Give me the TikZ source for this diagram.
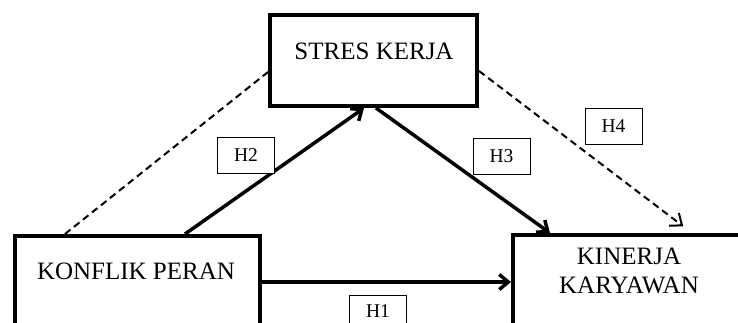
\documentclass[tikz,border=0pt]{standalone}
\usepackage{fontspec}
\setmainfont{Liberation Serif}
\usetikzlibrary{arrows.meta}
\begin{document}
\begin{tikzpicture}[x=1pt,y=-1pt,
  varbox/.style={draw=black, line width=4pt, minimum width=#1, inner sep=0pt},
  vartext/.style={font=\fontsize{25}{28}\selectfont, align=center, inner sep=0pt},
  hyp/.style={draw=black, line width=0.8pt, fill=white, minimum width=57pt, minimum height=36pt,
    inner sep=0pt, font=\fontsize{19.5}{20}\selectfont},
  solidarrow/.style={line width=3.5pt, -{Straight Barb[length=9pt,width=15pt]}},
  dashline/.style={line width=2pt, dash pattern=on 7pt off 4.5pt},
  dasharrow/.style={dashline, -{Straight Barb[length=10pt,width=16pt]}}
]
\useasboundingbox (0,0) rectangle (738,322);
\clip (0,0) rectangle (738,322);
\fill[white] (0,0) rectangle (738,322);

% boxes
\node[varbox=207pt, minimum height=91pt] (stres) at (373.5,60.5) {};
\node[varbox=245pt, minimum height=170pt] (konflik) at (137.5,321) {};
\node[varbox=290pt, minimum height=170pt] (kinerja) at (658,320) {};

% box texts
\node[vartext] (stresT) at (374,51) {STRES KERJA};
\node[vartext] (konflikT) at (136,271) {KONFLIK PERAN};
\node[vartext, font=\fontsize{25}{28.5}\selectfont] (kinerjaT) at (629,271) {KINERJA\\KARYAWAN};

% connectors
\draw[dashline] (konflik.north -| 65,0) -- (stres.west |- 0,72);
\draw[dasharrow, shorten >=11pt] (stres.east |- 0,71) -- (kinerja.north -| 692,0);
\draw[solidarrow] (konflik.north -| 185,0) -- (stres.south -| 364,0);
\draw[solidarrow] (stres.south -| 376,0) -- (kinerja.north -| 550,0);
\draw[solidarrow] (konflik.east |- 0,282) -- (kinerja.west |- 0,282);

% hypothesis labels
\node[hyp] (h2) at (246,155.5) {H2};
\node[hyp] (h3) at (501.5,156.5) {H3};
\node[hyp] (h4) at (613.5,126.5) {H4};
\node[hyp] (h1) at (378,313) {};
\node[font=\fontsize{19.5}{20}\selectfont, inner sep=0pt] (h1T) at (378,311.5) {H1};
\end{tikzpicture}
\end{document}
